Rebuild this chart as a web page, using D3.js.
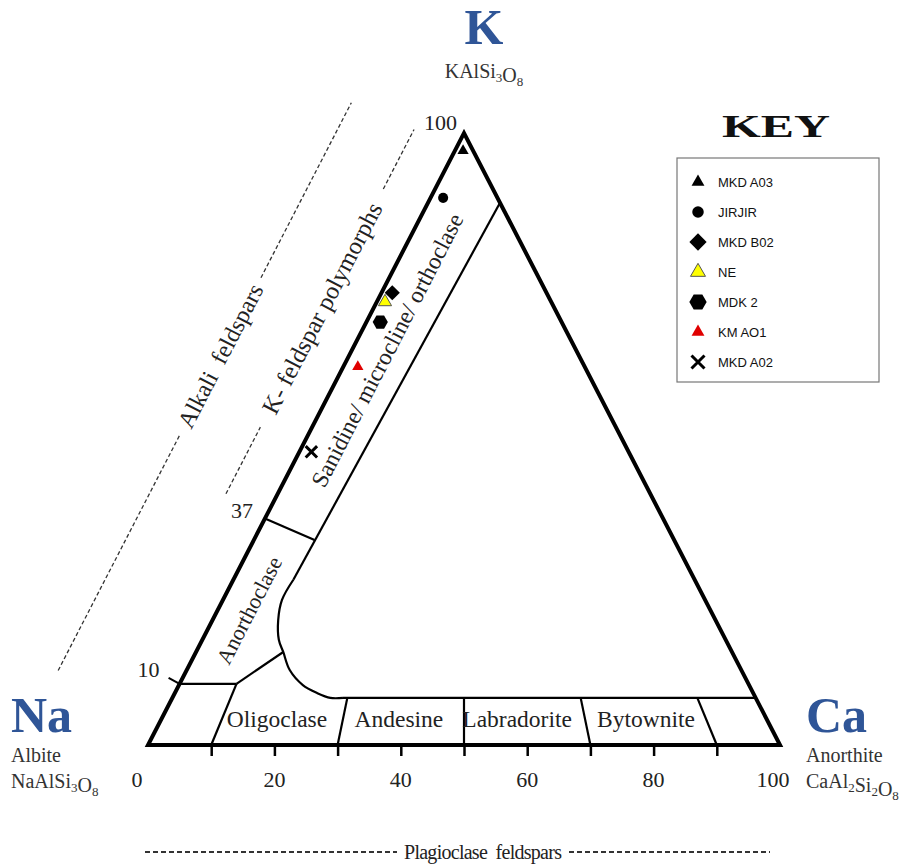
<!DOCTYPE html>
<html>
<head>
<meta charset="utf-8">
<script src="https://cdn.jsdelivr.net/npm/d3@7"></script>
<style>
  body { margin: 0; background: #fff; }
  svg { display: block; font-family: "Liberation Serif", "Times New Roman", serif; }
</style>
</head>
<body>
<div id="chart"></div>
<script>
// samples: Ca (An) and K (Or) in %, Na (Ab) is the rest
var sampleNames = ["MKD A03", "JIRJIR", "MKD B02", "NE", "MDK 2", "KM AO1", "MKD A02"];
var sampleCa = [1.3, 2.0, 1.7, 1.3, 2.2, 2.3, 1.9];
var sampleK = [97.1, 89.4, 73.9, 72.4, 69.1, 61.8, 47.9];
var sampleShapes = ["triangle", "circle", "diamond", "triangle", "hexagon", "triangle", "cross"];
var sampleFill = ["#000", "#000", "#000", "#ffff00", "#000", "#e00000", "#000"];

// axis stuff
var baseTicks = [10, 20, 30, 40, 50, 60, 70, 80, 90];
var baseLabels = [0, 20, 40, 60, 80, 100];
var leftLabels = [100, 37, 10];

// field boundaries, [Ca, K]
var anDivisions = [10, 30, 50, 70, 90];
var plagNames = ["Oligoclase", "Andesine", "Labradorite", "Bytownite"];
var plagCentre = [20.4, 39.7, 58.4, 78.8];
var sanidineEdge = [[11.4, 88.6], [9.5, 27]];
var bendCurve = [[9.5, 27], [9.35, 23.7], [10.4, 20.4], [12.1, 17.2], [13.8, 15.2], [16.3, 12.25], [19.6, 9.8], [22.5, 8.5], [25, 7.7], [27, 7.7]];
var plagTopK = 7.7;
var anoK = 10;
var sanAnoLine = [[0, 37], [9.6, 33.5]];
var anoOligoLine = [[9, 10], [13.8, 15.2]];

var svgWidth = 919, svgHeight = 866;
var blue = "#2f5597";
var ink = "#222";

var x = d3.scaleLinear().domain([0, 100]).range([148, 780]);
var y = d3.scaleLinear().domain([0, 100]).range([745, 133]);

function pt(ca, k) { return [x(ca + k / 2), y(k)]; }

var line = d3.line()
  .x(d => pt(d[0], d[1])[0])
  .y(d => pt(d[0], d[1])[1]);
var curve = d3.line()
  .x(d => pt(d[0], d[1])[0])
  .y(d => pt(d[0], d[1])[1])
  .curve(d3.curveCatmullRom.alpha(0.5));

var svg = d3.select("#chart")
  .append("svg")
  .attr("width", svgWidth)
  .attr("height", svgHeight);

// angle of the Na-K side
var edgeAngle = Math.atan2(y(100) - y(0), x(50) - x(0)) * 180 / Math.PI;

// inner field lines
var fields = svg.append("g")
  .attr("fill", "none")
  .attr("stroke", "#000")
  .attr("stroke-width", 2.2);

fields.append("path").attr("d", line(sanidineEdge));
fields.append("path").attr("d", curve(bendCurve));
fields.append("path").attr("d", line([[27, plagTopK], [100 - plagTopK, plagTopK]]));
fields.append("path").attr("d", line(sanAnoLine));
fields.append("path").attr("d", line(anoOligoLine));
fields.append("path").attr("d", line([[0, anoK], [anDivisions[0] * (1 - anoK / 100), anoK]]));

fields.selectAll(".an")
  .data(anDivisions)
  .enter()
  .append("path")
  .attr("d", d => {
    var top = d === 10 ? anoK : plagTopK;
    return line([[d, 0], [d * (1 - top / 100), top]]);
  });

// outline
svg.append("path")
  .attr("d", line([[0, 0], [100, 0], [0, 100]]) + "Z")
  .attr("fill", "none")
  .attr("stroke", "#000")
  .attr("stroke-width", 4)
  .attr("stroke-linejoin", "miter");

// base ticks
var bottomAxis = d3.axisBottom(x)
  .tickValues(baseTicks)
  .tickSize(11)
  .tickFormat("");
var axisG = svg.append("g")
  .attr("transform", `translate(0, ${y(0)})`)
  .call(bottomAxis);
axisG.select(".domain").remove();
axisG.selectAll("line").attr("stroke", "#000").attr("stroke-width", 2.5);

svg.selectAll(".baseLabel")
  .data(baseLabels)
  .enter()
  .append("text")
  .attr("x", d => x(d) + (d === 0 ? -11 : d === 100 ? -7 : 0))
  .attr("y", y(0) + 42)
  .attr("text-anchor", "middle")
  .attr("font-size", 22)
  .attr("fill", ink)
  .text(d => d);

// left side labels
var leftOff = { 100: [-7, -3], 37: [-12, -1], 10: [-20, -7] };
svg.selectAll(".leftLabel")
  .data(leftLabels)
  .enter()
  .append("text")
  .attr("x", d => pt(0, d)[0] + leftOff[d][0])
  .attr("y", d => pt(0, d)[1] + leftOff[d][1])
  .attr("text-anchor", "end")
  .attr("font-size", 22)
  .attr("fill", ink)
  .text(d => d);

var p10 = pt(0, 10);
svg.append("line")
  .attr("x1", p10[0]).attr("y1", p10[1])
  .attr("x2", p10[0] - 11).attr("y2", p10[1] - 6)
  .attr("stroke", "#000").attr("stroke-width", 2);

// field names
function rotLabel(txt, ca, k, size) {
  var p = pt(ca, k);
  svg.append("text")
    .attr("transform", `translate(${p[0]}, ${p[1]}) rotate(${edgeAngle})`)
    .attr("text-anchor", "middle")
    .attr("dominant-baseline", "central")
    .attr("font-size", size)
    .attr("fill", ink)
    .text(txt);
}
rotLabel("Sanidine/ microcline/ orthoclase", 5.6, 64.5, 23.5);
rotLabel("Anorthoclase", 5, 22, 22);

svg.selectAll(".plag")
  .data(plagNames)
  .enter()
  .append("text")
  .attr("x", (d, i) => x(plagCentre[i]))
  .attr("y", y(0) - 18)
  .attr("text-anchor", "middle")
  .attr("font-size", 23.5)
  .attr("fill", ink)
  .text(d => d);

// guide lines along the Na-K side
var na = pt(0, 0), kk = pt(0, 100);
var len = Math.hypot(kk[0] - na[0], kk[1] - na[1]);
var u = [(kk[0] - na[0]) / len, (kk[1] - na[1]) / len];
var nrm = [u[1], -u[0]];
function along(t, off) { return [na[0] + u[0] * t + nrm[0] * off, na[1] + u[1] * t + nrm[1] * off]; }

function guide(txt, off, segs, mid, size) {
  segs.forEach(s => {
    var a = along(s[0], off), b = along(s[1], off);
    svg.append("line")
      .attr("x1", a[0]).attr("y1", a[1]).attr("x2", b[0]).attr("y2", b[1])
      .attr("stroke", "#333").attr("stroke-width", 1.3)
      .attr("stroke-dasharray", "4,2.5");
  });
  var m = along(mid, off);
  svg.append("text")
    .attr("transform", `translate(${m[0]}, ${m[1]}) rotate(${edgeAngle})`)
    .attr("text-anchor", "middle")
    .attr("dominant-baseline", "central")
    .attr("font-size", size)
    .attr("fill", ink)
    .attr("xml:space", "preserve")
    .text(txt);
}
guide("Alkali  feldspars", 114, [[25, 290], [467, 664]], 379, 24);
guide("K- feldspar polymorphs", 46, [[259, 334], [602, 669]], 468, 24.5);

// bottom guide
svg.append("line")
  .attr("x1", 145).attr("x2", 397).attr("y1", 852).attr("y2", 852)
  .attr("stroke", "#333").attr("stroke-width", 2).attr("stroke-dasharray", "5,3");
svg.append("line")
  .attr("x1", 569).attr("x2", 770).attr("y1", 852).attr("y2", 852)
  .attr("stroke", "#333").attr("stroke-width", 2).attr("stroke-dasharray", "5,3");
svg.append("text")
  .attr("x", 483).attr("y", 859)
  .attr("text-anchor", "middle")
  .attr("font-size", 20)
  .attr("textLength", 158)
  .attr("fill", ink)
  .attr("xml:space", "preserve")
  .text("Plagioclase  feldspars");

// end members
function endMember(name, xPos, anchor, yName, rows) {
  svg.append("text")
    .attr("x", xPos).attr("y", yName)
    .attr("text-anchor", anchor)
    .attr("font-size", 50)
    .attr("font-weight", "bold")
    .attr("fill", blue)
    .text(name);
  rows.forEach(r => {
    var t = svg.append("text")
      .attr("x", xPos).attr("y", r.y)
      .attr("text-anchor", anchor)
      .attr("font-size", 20)
      .attr("fill", "#333");
    r.parts.forEach(p => {
      t.append("tspan")
        .attr("font-size", p[1] ? 13 : 20)
        .attr("dy", p[1] ? 4 : 0)
        .text(p[0]);
      if (p[1]) t.append("tspan").attr("dy", -4).text("");
    });
  });
}
endMember("K", 484, "middle", 44, [{ y: 78, parts: [["KAlSi", 0], ["3", 1], ["O", 0], ["8", 1]] }]);
endMember("Na", 11, "start", 732, [
  { y: 762, parts: [["Albite", 0]] },
  { y: 788, parts: [["NaAlSi", 0], ["3", 1], ["O", 0], ["8", 1]] }]);
endMember("Ca", 806, "start", 732, [
  { y: 762, parts: [["Anorthite", 0]] },
  { y: 788, parts: [["CaAl", 0], ["2", 1], ["Si", 0], ["2", 1], ["O", 0], ["8", 1]] }]);

// symbols
var symHex = {
  draw: function (ctx, size) {
    var r = Math.sqrt(2 * size / (3 * Math.sqrt(3)));
    for (var i = 0; i < 6; i++) {
      var a = i * Math.PI / 3;
      if (i === 0) ctx.moveTo(r * Math.cos(a), r * Math.sin(a));
      else ctx.lineTo(r * Math.cos(a), r * Math.sin(a));
    }
    ctx.closePath();
  }
};
var symCross = {
  draw: function (ctx, size) {
    var r = Math.sqrt(size) / 2;
    ctx.moveTo(-r, -r); ctx.lineTo(r, r);
    ctx.moveTo(r, -r); ctx.lineTo(-r, r);
  }
};
var symDiamond = {
  draw: function (ctx, size) {
    var r = Math.sqrt(size / 2);
    ctx.moveTo(0, -r); ctx.lineTo(r, 0); ctx.lineTo(0, r); ctx.lineTo(-r, 0);
    ctx.closePath();
  }
};
var symType = { triangle: d3.symbolTriangle, circle: d3.symbolCircle, diamond: symDiamond, hexagon: symHex, cross: symCross };
var symSize = { triangle: 55, circle: 80, diamond: 115, hexagon: 150, cross: 130 };

function drawSymbol(sel, i, k) {
  var shape = sampleShapes[i];
  var s = shape === "triangle" && sampleFill[i] === "#ffff00" ? 75 : symSize[shape];
  sel.append("path")
    .attr("d", d3.symbol().type(symType[shape]).size(s * k)())
    .attr("fill", shape === "cross" ? "none" : sampleFill[i])
    .attr("stroke", shape === "cross" ? "#000" : (sampleFill[i] === "#ffff00" ? "#555" : "none"))
    .attr("stroke-width", shape === "cross" ? 3 : 1);
}

// plotted samples
sampleNames.forEach((n, i) => {
  var p = pt(sampleCa[i], sampleK[i]);
  var g = svg.append("g").attr("transform", `translate(${p[0]}, ${p[1]})`);
  drawSymbol(g, i, 1);
});

// key
svg.append("text")
  .attr("x", 722).attr("y", 137)
  .attr("textLength", 108)
  .attr("lengthAdjust", "spacingAndGlyphs")
  .attr("font-size", 31)
  .attr("font-weight", "bold")
  .attr("fill", "#111")
  .text("KEY");

svg.append("rect")
  .attr("x", 677).attr("y", 158)
  .attr("width", 202).attr("height", 224)
  .attr("fill", "#fff")
  .attr("stroke", "#777")
  .attr("stroke-width", 1.2);

var keyY = d3.scalePoint().domain(sampleNames).range([182, 362]);
sampleNames.forEach((n, i) => {
  var g = svg.append("g").attr("transform", `translate(698, ${keyY(n)})`);
  drawSymbol(g, i, 1.3);
  svg.append("text")
    .attr("x", 718).attr("y", keyY(n) + 5)
    .attr("font-family", "'Liberation Sans', Arial, sans-serif")
    .attr("font-size", 13)
    .attr("fill", "#111")
    .text(n);
});
</script>
</body>
</html>
